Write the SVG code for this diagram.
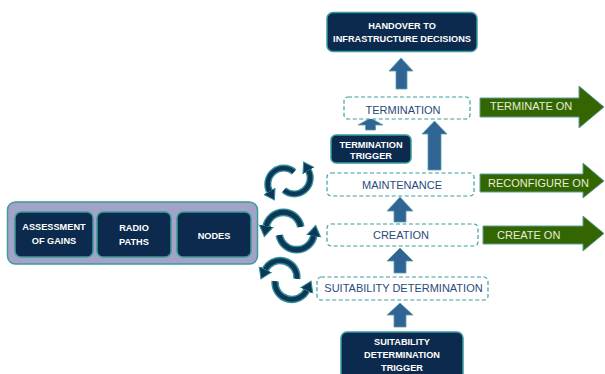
<svg xmlns="http://www.w3.org/2000/svg" width="605" height="374" viewBox="0 0 605 374">
  <style>
    .node rect { fill: #0c2a4d; stroke: #3b9c9c; stroke-width: 1.5; }
    .node text { fill: #ffffff; font-family: "Liberation Sans", Arial, sans-serif; font-weight: bold; font-size: 9.2px; text-anchor: middle; }
    .stage rect { fill: #ffffff; stroke: #3d9e9e; stroke-width: 1.2; stroke-dasharray: 4 2.5; }
    .stage text { fill: #2b4a7c; font-family: "Liberation Sans", Arial, sans-serif; font-size: 11px; text-anchor: middle; }
    .up { fill: #2f6494; stroke: #5aa0a8; stroke-width: 0.8; }
    .go path { fill: #336600; stroke: #5c9e9e; stroke-width: 1; }
    .go text { fill: #e6eedc; font-family: "Liberation Sans", Arial, sans-serif; font-size: 11px; }
    .ring-under { fill: none; stroke: #2f8f96; stroke-width: 7; }
    .ring { fill: none; stroke: #0e3658; stroke-width: 4.4; marker-end: url(#ringHead); }
  </style>
  <defs>
    <marker id="ringHead" markerUnits="userSpaceOnUse" markerWidth="16" markerHeight="16" refX="1" refY="7" orient="auto">
      <path d="M0,0.5 L10,7 L0,13.5 z" fill="#0e3658" stroke="#2f8f96" stroke-width="1"/>
    </marker>
    <!-- two offset half-arcs chasing each other -->
    <g id="cycle">
      <path class="ring-under" d="M 9.76 -3.78 A 16 16 0 0 0 -21.76 -3.78"/>
      <path class="ring" d="M 9.76 -3.78 A 16 16 0 0 0 -21.76 -3.78"/>
      <g transform="rotate(180)">
        <path class="ring-under" d="M 9.76 -3.78 A 16 16 0 0 0 -21.76 -3.78"/>
        <path class="ring" d="M 9.76 -3.78 A 16 16 0 0 0 -21.76 -3.78"/>
      </g>
    </g>
  </defs>

  <!-- connectors: block arrows and cycle arrows -->
  <g id="connectors">
    <!-- stage to handover -->
    <path class="up" d="M401,58 L413,71 L407,71 L407,89 L396,89 L396,71 L389,71 z"/>
    <!-- termination trigger to termination -->
    <path class="up" d="M370.5,118 L383,125 L375.5,125 L375.5,130 L365.5,130 L365.5,125 L358,125 z"/>
    <!-- maintenance to termination -->
    <path class="up" d="M434.5,121 L447,134 L441,134 L441,170 L428,170 L428,134 L422,134 z"/>
    <!-- creation to maintenance -->
    <path class="up" d="M400,197 L413,211 L406,211 L406,222 L394,222 L394,211 L387,211 z"/>
    <!-- suitability to creation -->
    <path class="up" d="M400,248 L413,261 L406,261 L406,273 L394,273 L394,261 L387,261 z"/>
    <!-- trigger to suitability -->
    <path class="up" d="M400,303 L413,315 L406,315 L406,327 L394,327 L394,315 L387,315 z"/>

    <use href="#cycle" transform="translate(289,181) rotate(-40)"/>
    <use href="#cycle" transform="translate(290,231) scale(1.1)"/>
    <use href="#cycle" transform="translate(286,280) rotate(15) scale(1.05)"/>
  </g>

  <!-- outcome arrows -->
  <g id="terminate-on" class="go">
    <path d="M480,98 L579,98 L579,86 L604,107 L579,128 L579,117 L480,117 z"/>
    <text x="490" y="110">TERMINATE ON</text>
  </g>
  <g id="reconfigure-on" class="go">
    <path d="M480,174 L583,174 L583,163 L604,181 L583,198 L583,192 L480,192 z"/>
    <text x="488" y="187">RECONFIGURE ON</text>
  </g>
  <g id="create-on" class="go">
    <path d="M483,226 L583,226 L583,216 L604,233.5 L583,251 L583,244 L483,244 z"/>
    <text x="497" y="239">CREATE ON</text>
  </g>

  <!-- lifecycle stages -->
  <g id="termination" class="stage">
    <rect x="344" y="97" width="126" height="22" rx="4"/>
    <text x="403" y="114">TERMINATION</text>
  </g>
  <g id="maintenance" class="stage">
    <rect x="327" y="173" width="147" height="23" rx="4"/>
    <text x="402" y="189">MAINTENANCE</text>
  </g>
  <g id="creation" class="stage">
    <rect x="327" y="224" width="151" height="22" rx="4"/>
    <text x="401" y="239">CREATION</text>
  </g>
  <g id="suitability" class="stage">
    <rect x="317" y="277" width="171" height="23" rx="4"/>
    <text x="403.5" y="292">SUITABILITY DETERMINATION</text>
  </g>

  <!-- decision and trigger nodes -->
  <g id="handover" class="node">
    <rect x="327" y="12.5" width="150" height="39" rx="6"/>
    <text x="402" y="28.5">HANDOVER TO</text>
    <text x="402" y="41.5">INFRASTRUCTURE DECISIONS</text>
  </g>
  <g id="termination-trigger" class="node">
    <rect x="331" y="135" width="80" height="28" rx="5"/>
    <text x="371" y="148">TERMINATION</text>
    <text x="371" y="158.5">TRIGGER</text>
  </g>
  <g id="suitability-trigger" class="node">
    <rect x="341" y="332" width="122" height="48" rx="6"/>
    <text x="402" y="344.5">SUITABILITY</text>
    <text x="402" y="358">DETERMINATION</text>
    <text x="402" y="371">TRIGGER</text>
  </g>

  <!-- inputs panel -->
  <g id="inputs">
    <rect x="7.5" y="202" width="250" height="62" rx="8" fill="#a3a3c7" stroke="#3b9c9c" stroke-width="1.5"/>
  </g>
  <g id="assessment" class="node">
    <rect x="15" y="212" width="78" height="45" rx="6"/>
    <text x="54" y="230">ASSESSMENT</text>
    <text x="54" y="244">OF GAINS</text>
  </g>
  <g id="radio-paths" class="node">
    <rect x="97" y="212" width="74" height="45" rx="6"/>
    <text x="134" y="231">RADIO</text>
    <text x="134" y="245">PATHS</text>
  </g>
  <g id="nodes" class="node">
    <rect x="177" y="212" width="74" height="45" rx="6"/>
    <text x="214" y="238.5">NODES</text>
  </g>
</svg>
